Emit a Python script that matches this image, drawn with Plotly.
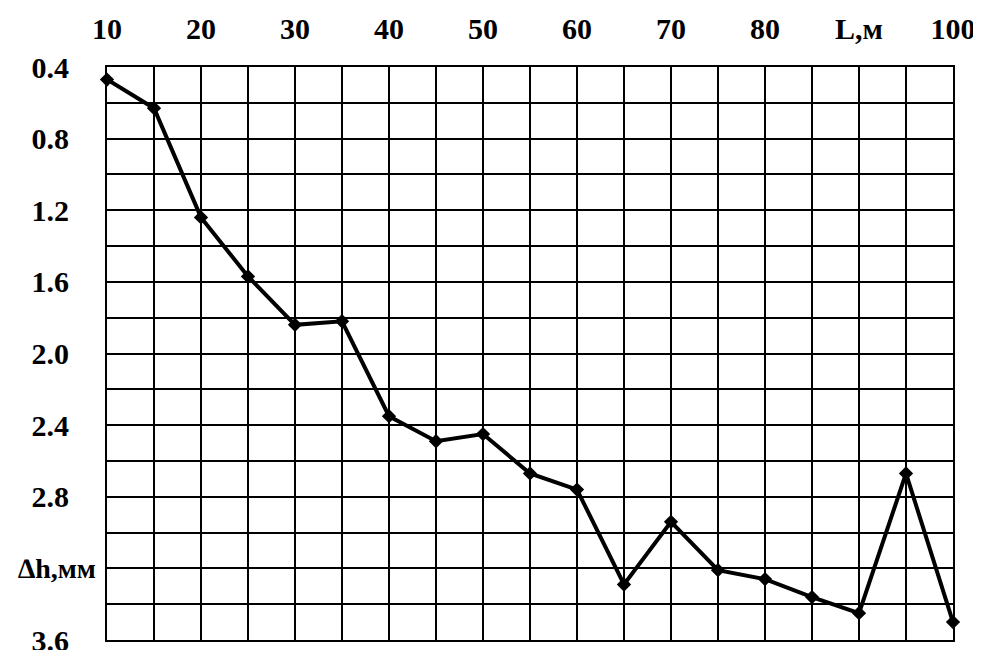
import plotly.graph_objects as go

L_m = [10, 15, 20, 25, 30, 35, 40, 45, 50, 55, 60, 65, 70, 75, 80, 85, 90, 95, 100]
dh_mm = [0.47, 0.63, 1.24, 1.57, 1.84, 1.82, 2.35, 2.49, 2.45, 2.67, 2.76, 3.29,
         2.94, 3.21, 3.26, 3.36, 3.45, 2.67, 3.50]

x_grid = list(range(10, 101, 5))
x_labels = {10: "10", 20: "20", 30: "30", 40: "40", 50: "50", 60: "60",
            70: "70", 80: "80", 90: "L,м", 100: "100"}
y_grid = [round(0.4 + 0.2 * i, 1) for i in range(17)]
y_labels = {0.4: "0.4", 0.8: "0.8", 1.2: "1.2", 1.6: "1.6", 2.0: "2.0",
            2.4: "2.4", 2.8: "2.8", 3.6: "3.6"}
y_title = "∆h,мм"
y_title_at = 3.2

x_text = [x_labels.get(v, "") for v in x_grid]
y_text = [y_labels.get(v, "") for v in y_grid]

fig = go.Figure()
fig.add_trace(go.Scatter(
    x=L_m, y=dh_mm, mode="lines+markers",
    line=dict(color="black", width=4),
    marker=dict(symbol="diamond", size=11, color="black"),
    cliponaxis=False, showlegend=False,
))

font_family = "Liberation Serif, Times New Roman, serif"
# page body has an 8px default margin, so the figure is offset by 8px
fig.update_layout(
    width=973, height=642,
    margin=dict(l=99, r=28, t=59, b=10),
    paper_bgcolor="white", plot_bgcolor="white",
    font=dict(family=font_family, color="black"),
    xaxis=dict(
        range=[10, 100], side="top", automargin=False,
        tickmode="array", tickvals=x_grid, ticktext=x_text,
        tickfont=dict(size=30, family=font_family, weight="bold"),
        ticklabeloverflow="allow",
        showgrid=True, gridcolor="black", gridwidth=1.5,
        showline=True, linecolor="black", linewidth=2, mirror=True,
        ticks="outside", ticklen=14, tickcolor="rgba(0,0,0,0)",
        zeroline=False,
    ),
    yaxis=dict(
        range=[3.6, 0.4], automargin=False,
        tickmode="array", tickvals=y_grid, ticktext=y_text,
        tickfont=dict(size=30, family=font_family, weight="bold"),
        ticklabeloverflow="allow",
        showgrid=True, gridcolor="black", gridwidth=1.5,
        showline=True, linecolor="black", linewidth=2, mirror=True,
        ticks="outside", ticklen=30, tickcolor="rgba(0,0,0,0)",
        zeroline=False,
    ),
    annotations=[dict(
        text=y_title, xref="paper", yref="y", x=0, y=y_title_at,
        xanchor="right", yanchor="middle", xshift=-9, showarrow=False,
        font=dict(size=28, family=font_family, weight="bold", color="black"),
    )],
)

fig.write_html("out.html")
